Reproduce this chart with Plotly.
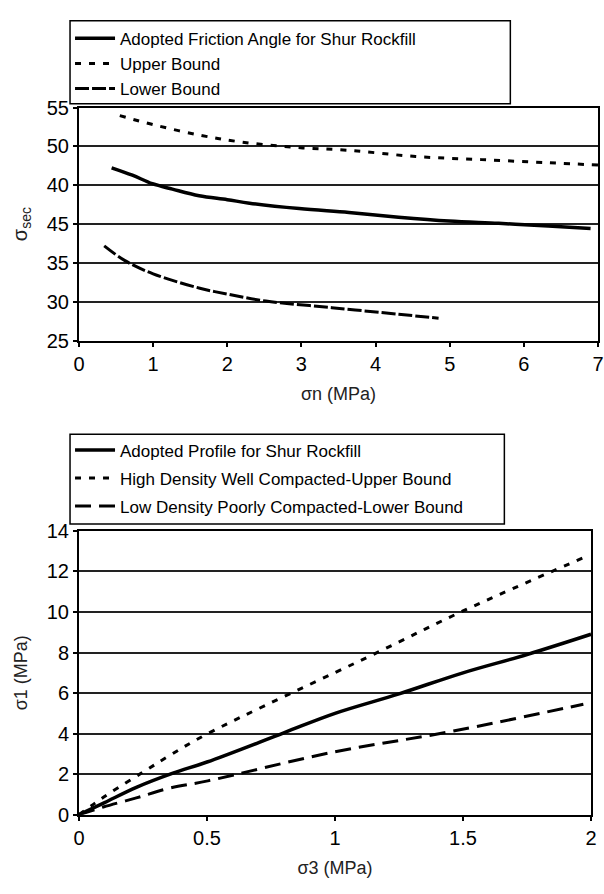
import plotly.graph_objects as go

# ---- Top chart data ----
top_adopted_x = [0.44, 0.72, 0.99, 1.26, 1.62, 2.0, 2.3, 2.97, 3.64, 4.31, 4.99, 5.66, 6.33, 6.9]
top_adopted_y = [47.25, 46.3, 45.2, 44.5, 43.65, 43.15, 42.7, 42.0, 41.5, 40.9, 40.4, 40.1, 39.75, 39.45]
top_upper_x = [0.55, 1.0, 1.63, 2.16, 2.88, 3.64, 4.54, 5.43, 6.33, 7.0]
top_upper_y = [53.96, 52.8, 51.45, 50.6, 49.9, 49.5, 48.7, 48.3, 47.9, 47.6]
top_lower_x = [0.34, 0.62, 1.0, 1.63, 2.0, 2.52, 3.41, 4.31, 4.85]
top_lower_y = [37.2, 35.3, 33.6, 31.75, 31.0, 30.1, 29.25, 28.4, 27.9]
top_ytick_vals = [25, 30, 35, 40, 45, 50, 55]
top_ytick_text = ["25", "30", "35", "45", "40", "50", "55"]
top_xtick_vals = [0, 1, 2, 3, 4, 5, 6, 7]

# ---- Bottom chart data ----
bot_adopted_x = [0, 0.1, 0.224, 0.367, 0.5, 0.8, 1.0, 1.25, 1.5, 1.75, 2.0]
bot_adopted_y = [0, 0.6, 1.35, 2.05, 2.6, 4.04, 5.0, 5.96, 7.0, 7.9, 8.9]
bot_upper_x = [0, 0.056, 0.12, 0.25, 0.354, 0.497, 1.16, 1.5, 1.975]
bot_upper_y = [0, 0.51, 1.07, 2.1, 2.92, 3.96, 7.97, 10.05, 12.7]
bot_lower_x = [0, 0.095, 0.224, 0.354, 0.503, 0.99, 1.46, 1.97]
bot_lower_y = [0, 0.38, 0.83, 1.31, 1.67, 3.08, 4.12, 5.45]
bot_ytick_vals = [0, 2, 4, 6, 8, 10, 12, 14]
bot_xtick_vals = [0, 0.5, 1, 1.5, 2]
bot_xtick_text = ["0", "0.5", "1", "1.5", "2"]

FONT = "Liberation Sans, Arial, sans-serif"
H = 894.0
PW = 521.0  # plot width in px (l=79, r=4)

fig = go.Figure()

fig.add_trace(go.Scatter(x=top_adopted_x, y=top_adopted_y, mode="lines", name="Adopted Friction Angle for Shur Rockfill",
                         line=dict(color="black", width=3.5, shape="spline"), xaxis="x", yaxis="y", legend="legend"))
fig.add_trace(go.Scatter(x=top_upper_x, y=top_upper_y, mode="lines", name="Upper Bound",
                         line=dict(color="black", width=3, dash="6px,8px", shape="spline"), xaxis="x", yaxis="y", legend="legend"))
fig.add_trace(go.Scatter(x=top_lower_x, y=top_lower_y, mode="lines", name="Lower Bound",
                         line=dict(color="black", width=3, dash="14px,3px", shape="spline"), xaxis="x", yaxis="y", legend="legend"))

fig.add_trace(go.Scatter(x=bot_adopted_x, y=bot_adopted_y, mode="lines", name="Adopted Profile for Shur Rockfill",
                         line=dict(color="black", width=3.5, shape="spline"), xaxis="x2", yaxis="y2",
                         legend="legend2", legendgroup="b1"))
fig.add_trace(go.Scatter(x=bot_upper_x, y=bot_upper_y, mode="lines", name="High Density Well Compacted-Upper Bound",
                         line=dict(color="black", width=3, dash="6px,8px", shape="spline"), xaxis="x2", yaxis="y2",
                         legend="legend2", legendgroup="b2"))
fig.add_trace(go.Scatter(x=bot_lower_x, y=bot_lower_y, mode="lines", name="Low Density Poorly Compacted-Lower Bound",
                         line=dict(color="black", width=3, dash="16px,8px", shape="spline"), xaxis="x2", yaxis="y2",
                         legend="legend2", legendgroup="b3"))

axis_common = dict(showline=True, linecolor="black", linewidth=2, mirror=True, ticks="outside", ticklen=4,
                   tickcolor="black", tickwidth=2, zeroline=False, ticklabeloverflow="allow",
                   tickfont=dict(family=FONT, size=20, color="black"))

legend_common = dict(xanchor="left", yanchor="top", bgcolor="rgba(0,0,0,0)", itemwidth=40,
                     font=dict(family=FONT, size=17, color="black"))

fig.update_layout(
    width=604, height=894,
    margin=dict(l=79, r=4, t=0, b=0),
    paper_bgcolor="white", plot_bgcolor="white",
    font=dict(family=FONT, color="black"),
    xaxis=dict(domain=[0, 1], range=[0, 7], tickvals=top_xtick_vals, showgrid=False, anchor="y",
               title=dict(text="σn (MPa)", font=dict(size=18, color="#222"), standoff=14), **axis_common),
    yaxis=dict(domain=[1 - 338 / H, 1 - 99 / H], range=[25, 55], tickvals=top_ytick_vals, ticktext=top_ytick_text,
               showgrid=True, gridcolor="#222", gridwidth=1.5, anchor="x",
               title=dict(text="σ<sub>sec</sub>", font=dict(size=20, color="#222"), standoff=14), **axis_common),
    xaxis2=dict(domain=[0, (593 - 79) / PW], range=[0, 2], tickvals=bot_xtick_vals, ticktext=bot_xtick_text,
                showgrid=False, anchor="y2",
                title=dict(text="σ3 (MPa)", font=dict(size=18, color="#222"), standoff=14), **axis_common),
    yaxis2=dict(domain=[1 - 824 / H, 1 - 533 / H], range=[0, 14], tickvals=bot_ytick_vals,
                showgrid=True, gridcolor="#222", gridwidth=1.5, anchor="x2",
                title=dict(text="σ1 (MPa)", font=dict(size=18, color="#222"), standoff=14), **axis_common),
    legend=dict(x=(70 - 79) / PW, y=1 - 10 / H, tracegroupgap=0, **legend_common),
    legend2=dict(x=(70 - 79) / PW, y=1 - 432 / H, tracegroupgap=3, **legend_common),
    shapes=[
        dict(type="rect", xref="paper", yref="paper", x0=(70 - 79) / PW, x1=(512 - 79) / PW,
             y0=1 - 95 / H, y1=1 - 10 / H, line=dict(color="black", width=1.5), fillcolor="rgba(0,0,0,0)"),
        dict(type="rect", xref="paper", yref="paper", x0=(70 - 79) / PW, x1=(506 - 79) / PW,
             y0=1 - 526 / H, y1=1 - 434 / H, line=dict(color="black", width=1.5), fillcolor="rgba(0,0,0,0)"),
    ],
    showlegend=True,
)

fig.write_html("out.html")
